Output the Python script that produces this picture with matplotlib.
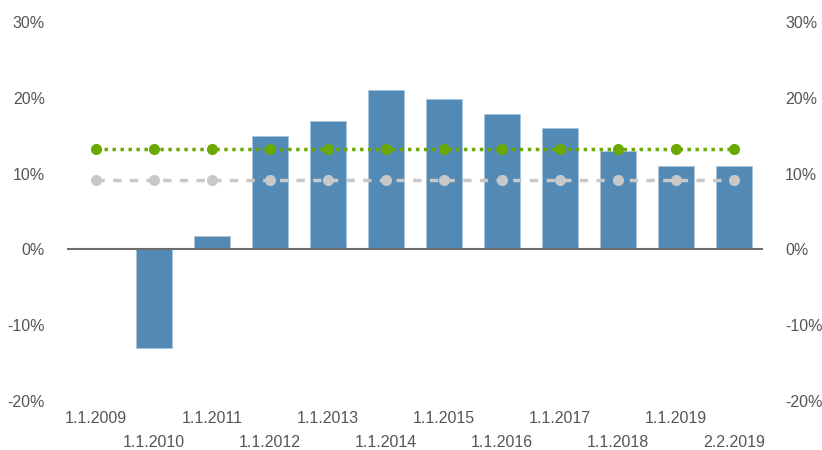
import numpy as np
import matplotlib
matplotlib.use('Agg')
import matplotlib.pyplot as plt
from matplotlib.ticker import FuncFormatter

plt.rcParams['font.family'] = ['Liberation Sans', 'DejaVu Sans']

dates = ['1.1.2009', '1.1.2010', '1.1.2011', '1.1.2012', '1.1.2013', '1.1.2014',
         '1.1.2015', '1.1.2016', '1.1.2017', '1.1.2018', '1.1.2019', '2.2.2019']
returns = [np.nan, -13.0, 1.8, 14.9, 16.9, 21.0, 19.9, 17.9, 16.0, 13.0, 11.0, 11.0]
avgGreen = [13.2] * 12
avgGray = [9.2] * 12

textColor = '#555555'

fig = plt.figure(figsize=(8.22, 4.5), dpi=100)
ax = fig.add_axes([0.0815, 0.109, 0.8465, 0.842])

x = np.arange(len(dates))
ax.bar(x, returns, width=0.63, color='#5289b5', edgecolor='#a9c6dd', linewidth=0.6, zorder=2)
ax.axhline(0, color='#6e6e6e', linewidth=1.5, zorder=3)

ax.plot(x, avgGray, color='#c8c8c8', linestyle=(0, (2.4, 2.4)), linewidth=2.5,
        marker='o', markersize=8, markeredgewidth=0, zorder=4)
ax.plot(x, avgGreen, color='#6aaa00', linestyle=(0, (1, 1.3)), linewidth=2.5,
        marker='o', markersize=8, markeredgewidth=0, zorder=5)

ax.set_xlim(-0.5, 11.5)
ax.set_ylim(-20, 30)
ax.set_yticks([-20, -10, 0, 10, 20, 30])
ax.yaxis.set_major_formatter(FuncFormatter(lambda v, p: '%d%%' % v))
ax.tick_params(axis='y', left=False, right=False, labelleft=True, labelright=True,
               labelsize=11.5, labelcolor=textColor, pad=12.5)

ax.set_xticks(x)
ax.set_xticklabels(dates)
ax.tick_params(axis='x', bottom=False, labelsize=11.5, labelcolor=textColor, pad=4)
for i, lbl in enumerate(ax.get_xticklabels()):
    if i % 2 == 1:
        lbl.set_y(-0.062)

for s in ax.spines.values():
    s.set_visible(False)

fig.savefig('out.png', dpi=100)
